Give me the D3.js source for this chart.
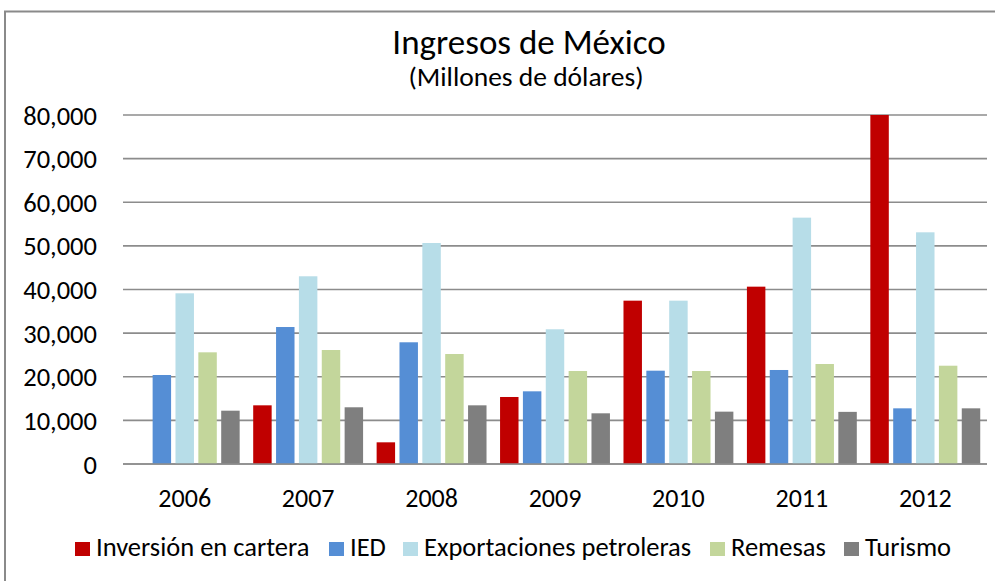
<!DOCTYPE html>
<html>
<head>
<meta charset="utf-8">
<script src="https://cdn.jsdelivr.net/npm/d3@7"></script>
<style>
  html, body { margin: 0; padding: 0; background: #fff; }
  #ingresos-chart { width: 995px; height: 581px; }
  .chart-labels { font-family: Carlito, Calibri, "Open Sans", sans-serif; fill: #000; }
</style>
</head>
<body>
<div id="ingresos-chart"></div>
<script>
// ----------------------- Data -----------------------
const years = ["2006", "2007", "2008", "2009", "2010", "2011", "2012"];
const seriesNames = ["Inversión en cartera", "IED", "Exportaciones petroleras", "Remesas", "Turismo"];
const seriesColors = ["#c00000", "#558ed5", "#b7dde8", "#c3d69b", "#7f7f7f"];
const inversionCartera = [0, 13450, 4970, 15360, 37440, 40650, 80000];
const ied = [20400, 31400, 27900, 16660, 21390, 21550, 12760];
const exportacionesPetroleras = [39130, 43030, 50660, 30880, 37440, 56470, 53110];
const remesas = [25600, 26130, 25210, 21320, 21320, 22920, 22530];
const turismo = [12220, 13000, 13450, 11620, 12000, 11950, 12760];
const yTicks = [0, 10000, 20000, 30000, 40000, 50000, 60000, 70000, 80000];

(function () {
  const seriesValues = [inversionCartera, ied, exportacionesPetroleras, remesas, turismo];

  const containerWidth = 995;
  const containerHeight = 581;
  const margin = { top: 115, right: 8, bottom: 117, left: 123 };
  const width = containerWidth - margin.left - margin.right;
  const height = containerHeight - margin.top - margin.bottom;

  const root = d3
    .select("#ingresos-chart")
    .append("svg")
    .attr("width", containerWidth)
    .attr("height", containerHeight);

  // Outer chart border (right and bottom edges fall off the picture)
  root
    .append("rect")
    .attr("x", 5)
    .attr("y", 11.5)
    .attr("width", 1000)
    .attr("height", 600)
    .attr("fill", "#fff")
    .attr("stroke", "#8a8a8a")
    .attr("stroke-width", 2);

  // Titles
  root
    .append("text")
    .attr("class", "chart-labels")
    .attr("x", 529)
    .attr("y", 54)
    .attr("text-anchor", "middle")
    .style("font-size", "35px")
    .text("Ingresos de México");

  root
    .append("text")
    .attr("class", "chart-labels")
    .attr("x", 526)
    .attr("y", 86)
    .attr("text-anchor", "middle")
    .style("font-size", "27.5px")
    .text("(Millones de dólares)");

  const svg = root.append("g").attr("transform", `translate(${margin.left},${margin.top})`);

  // Scales
  const x0 = d3.scaleBand().domain(years).range([0, width]).paddingInner(0).paddingOuter(0);
  const x1 = d3
    .scaleBand()
    .domain(seriesNames)
    .range([0, x0.bandwidth()])
    .paddingInner(0)
    .paddingOuter(0.2);
  const y = d3.scaleLinear().domain([0, 80000]).range([height, 0]);

  // Gridlines
  svg
    .append("g")
    .selectAll("line")
    .data(yTicks)
    .enter()
    .append("line")
    .attr("x1", 0)
    .attr("x2", width)
    .attr("y1", (d) => y(d))
    .attr("y2", (d) => y(d))
    .attr("stroke", "#8c8c8c")
    .attr("stroke-width", 1.6);

  // Y axis labels
  const yAxis = d3.axisLeft(y).tickValues(yTicks).tickFormat(d3.format(",")).tickSize(0).tickPadding(26);
  const yAxisGroup = svg.append("g").call(yAxis);
  yAxisGroup.select(".domain").remove();
  yAxisGroup
    .selectAll(".tick text")
    .attr("class", "chart-labels")
    .style("font-size", "26.5px")
    .attr("dy", "0.34em");

  // X axis labels
  const xAxis = d3.axisBottom(x0).tickSize(0).tickPadding(24.5);
  const xAxisGroup = svg.append("g").attr("transform", `translate(0,${height})`).call(xAxis);
  xAxisGroup.select(".domain").remove();
  xAxisGroup
    .selectAll(".tick text")
    .attr("class", "chart-labels")
    .style("font-size", "26px");

  // Bars
  const groups = svg
    .append("g")
    .selectAll("g")
    .data(years)
    .enter()
    .append("g")
    .attr("transform", (d) => `translate(${x0(d)},0)`);

  const gap = 2.2;
  groups
    .selectAll("rect")
    .data((d, i) => seriesNames.map((name, s) => ({ name, s, value: seriesValues[s][i] })))
    .enter()
    .append("rect")
    .attr("x", (d) => x1(d.name) + gap)
    .attr("width", x1.bandwidth() - gap * 2)
    .attr("y", (d) => y(d.value))
    .attr("height", (d) => height - y(d.value))
    .attr("fill", (d) => seriesColors[d.s]);

  // Axis baseline on top of bars
  svg
    .append("line")
    .attr("x1", 0)
    .attr("x2", width)
    .attr("y1", y(0))
    .attr("y2", y(0))
    .attr("stroke", "#8c8c8c")
    .attr("stroke-width", 1.6);

  // Legend
  const legendX = [75, 329, 403, 710, 844];
  const legend = root
    .append("g")
    .selectAll("g")
    .data(seriesNames)
    .enter()
    .append("g")
    .attr("transform", (d, i) => `translate(${legendX[i]},542)`);

  legend
    .append("rect")
    .attr("width", 15)
    .attr("height", 14)
    .attr("fill", (d, i) => seriesColors[i]);

  legend
    .append("text")
    .attr("class", "chart-labels")
    .attr("x", 21)
    .attr("y", 14)
    .style("font-size", "26.5px")
    .text((d) => d);
})();
</script>
</body>
</html>
